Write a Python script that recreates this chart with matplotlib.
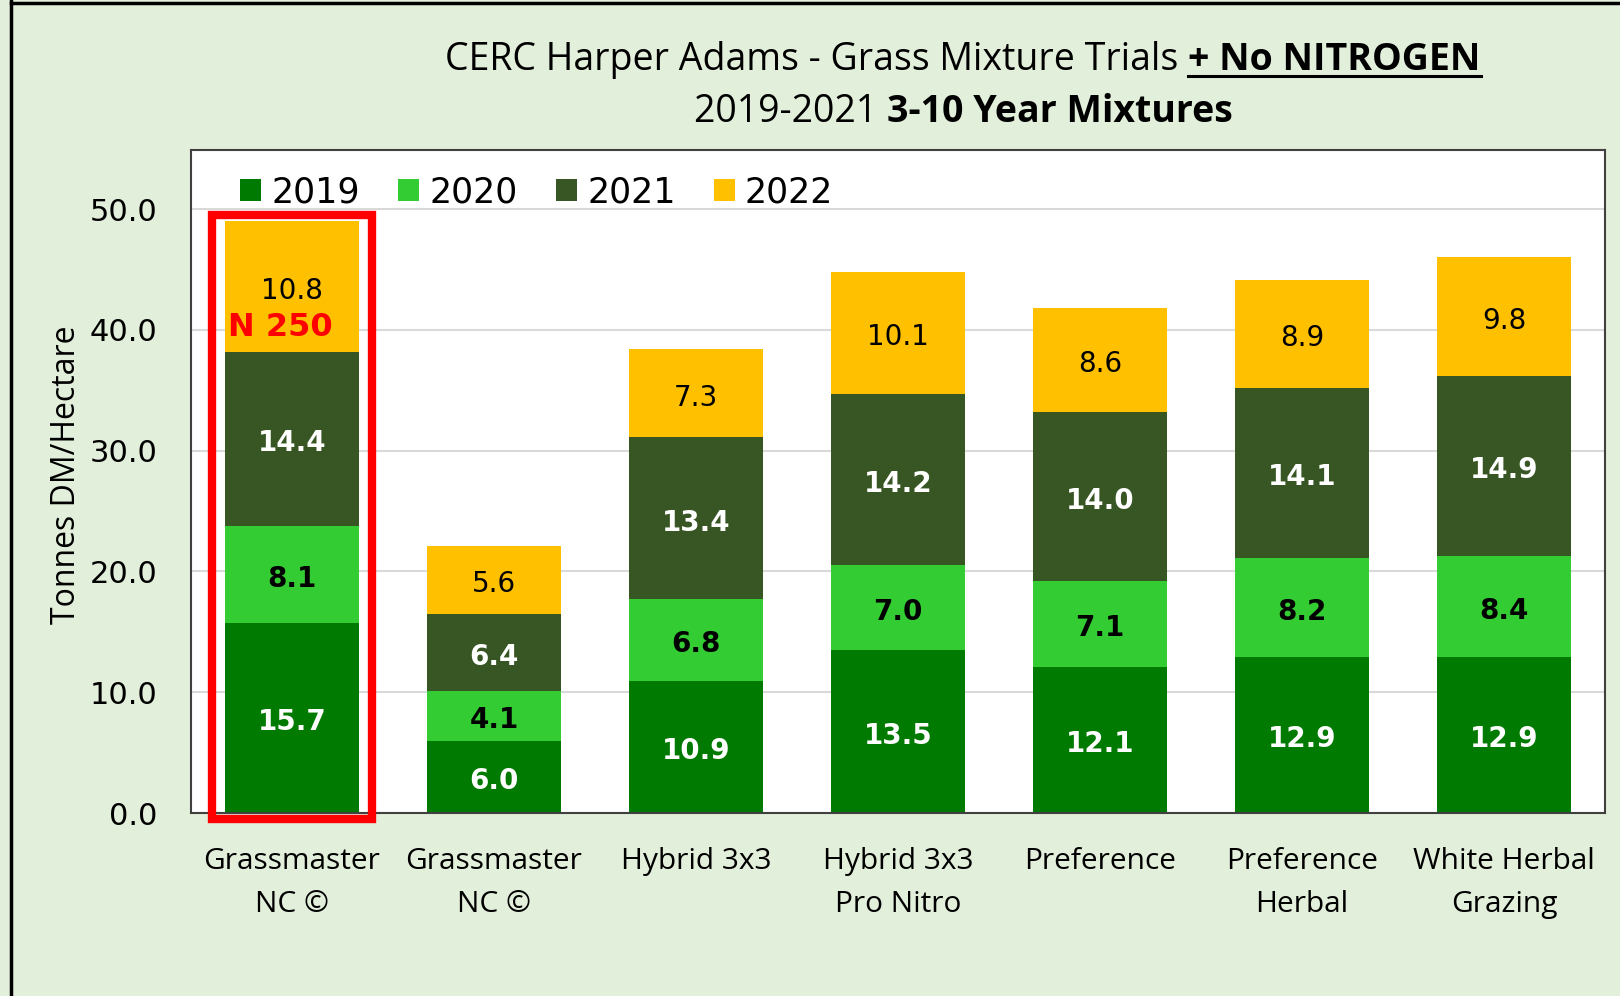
import matplotlib
matplotlib.use('Agg')
import matplotlib.pyplot as plt
from matplotlib.lines import Line2D
from matplotlib.patches import Rectangle
import numpy as np

categories = ["Grassmaster\nNC ©", "Grassmaster\nNC ©", "Hybrid 3x3", "Hybrid 3x3\nPro Nitro",
              "Preference", "Preference\nHerbal", "White Herbal\nGrazing"]
years = ["2019", "2020", "2021", "2022"]
y2019 = [15.7, 6.0, 10.9, 13.5, 12.1, 12.9, 12.9]
y2020 = [8.1, 4.1, 6.8, 7.0, 7.1, 8.2, 8.4]
y2021 = [14.4, 6.4, 13.4, 14.2, 14.0, 14.1, 14.9]
y2022 = [10.8, 5.6, 7.3, 10.1, 8.6, 8.9, 9.8]
yticks = [0, 10, 20, 30, 40, 50]
highlight_note = "N 250"
title1_normal = "CERC Harper Adams - Grass Mixture Trials "
title1_bold = "+ No NITROGEN"
title2_normal = "2019-2021 "
title2_bold = "3-10 Year Mixtures"
ylabel = "Tonnes DM/Hectare"

colors = ['#017A01', '#33CC33', '#375623', '#FFC000']
label_colors = ['white', 'black', 'white', 'black']
label_weights = ['bold', 'bold', 'bold', 'normal']

W, H = 1620, 996
BG = '#E2EFDA'
fig = plt.figure(figsize=(W / 100, H / 100), dpi=100, facecolor=BG)
ax = fig.add_axes([191 / W, 1 - 813 / H, (1605 - 191) / W, (813 - 150) / H])
ax.set_facecolor('white')

x = np.arange(len(categories))
bottom = np.zeros(len(categories))
series = [y2019, y2020, y2021, y2022]
for vals, c, lc, wt, yr in zip(series, colors, label_colors, label_weights, years):
    vals = np.array(vals)
    ax.bar(x, vals, width=0.665, bottom=bottom, color=c, label=yr, zorder=2)
    for xi, b, v in zip(x, bottom, vals):
        ax.annotate(f"{v:.1f}", (xi, b + v / 2), xytext=(0, -3), textcoords='offset points',
                    ha='center', va='center', color=lc, fontweight=wt, fontsize=20,
                    family='DejaVu Sans', zorder=4)
    bottom += vals

ax.set_xlim(-0.5, len(categories) - 0.5)
ax.set_ylim(0, 54.9)
ax.set_yticks(yticks)
ax.set_yticklabels([f"{t:.1f}" for t in yticks], fontsize=22, family='DejaVu Sans')
ax.set_xticks(x)
ax.set_xticklabels(categories, fontsize=21.5, family='Open Sans', linespacing=1.62)
ax.tick_params(axis='y', length=0, pad=24)
ax.tick_params(axis='x', length=0, pad=24.5)
ax.grid(axis='y', color='#D9D9D9', lw=1.5, zorder=0)
ax.set_axisbelow(True)
for s in ax.spines.values():
    s.set_color('#404040')
    s.set_linewidth(1.5)

# highlight box
ax.add_patch(Rectangle((-0.394, -0.51), 0.788, 50.0, fill=False, edgecolor='#FF0000',
                       lw=6, clip_on=False, zorder=5))
ax.text(-0.06, 40.2, highlight_note, color='#FF0000', fontsize=23, fontweight='bold',
        ha='center', va='center', zorder=6)

leg = ax.legend(loc='upper left', bbox_to_anchor=(49 / 1414, 1 - 25 / 663), ncol=4,
                frameon=False, fontsize=25, handlelength=0.6, handleheight=0.6,
                handletextpad=0.3, columnspacing=1.1, borderpad=0, borderaxespad=0)
for t in leg.get_texts():
    t.set_family('DejaVu Sans')

fig.text(67 / W, 1 - 475 / H, ylabel, rotation=90, ha='center', va='center',
         fontsize=23, family='Open Sans')

# titles with mixed styles
renderer = fig.canvas.get_renderer()


def mixed(normal, bold, cx, base_y, size, underline=False):
    t1 = fig.text(0, 1 - base_y / H, normal, fontsize=size, family='Open Sans', va='baseline')
    t2 = fig.text(0, 1 - base_y / H, bold, fontsize=size, family='Open Sans',
                  fontweight='bold', va='baseline')
    w1 = t1.get_window_extent(renderer).width
    w2 = t2.get_window_extent(renderer).width
    start = cx - (w1 + w2) / 2
    t1.set_x(start / W)
    t2.set_x((start + w1) / W)
    if underline:
        fig.add_artist(Line2D([(start + w1) / W, (start + w1 + w2) / W],
                              [1 - (base_y + 6) / H] * 2, color='black', lw=2.2))


mixed(title1_normal, title1_bold, 963, 70, 27, underline=True)
mixed(title2_normal, title2_bold, 963, 122, 27)

# outer border (left and top)
fig.add_artist(Line2D([11 / W, 11 / W], [0, 1], color='black', lw=2.5))
fig.add_artist(Line2D([11 / W, 1], [1 - 3 / H, 1 - 3 / H], color='black', lw=2.5))

fig.savefig('out.png', dpi=100, facecolor=BG)
